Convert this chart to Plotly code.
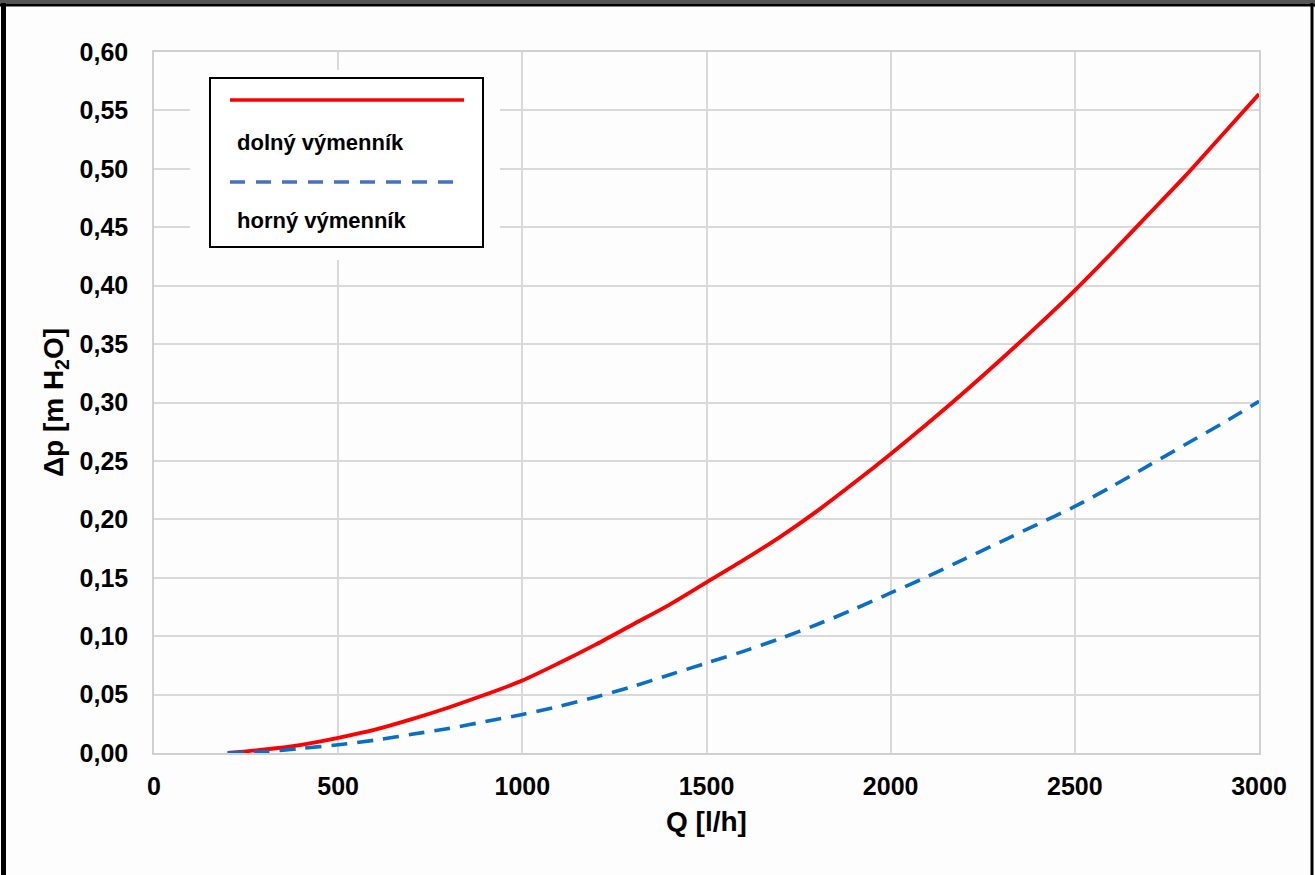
import plotly.graph_objects as go

# ---- data ----
q_values = [200, 300, 400, 500, 600, 700, 800, 900, 1000, 1100, 1200, 1300, 1400, 1500,
            1600, 1700, 1800, 1900, 2000, 2100, 2200, 2300, 2400, 2500, 2600, 2700,
            2800, 2900, 3000]
dolny = [0.000, 0.003, 0.007, 0.013, 0.020, 0.029, 0.039, 0.050, 0.062, 0.077, 0.093,
         0.110, 0.127, 0.146, 0.165, 0.185, 0.207, 0.231, 0.256, 0.282, 0.309, 0.337,
         0.366, 0.396, 0.428, 0.461, 0.494, 0.529, 0.564]
horny = [0.000, 0.001, 0.004, 0.007, 0.011, 0.016, 0.021, 0.027, 0.033, 0.040, 0.048,
         0.057, 0.067, 0.077, 0.087, 0.098, 0.110, 0.123, 0.137, 0.151, 0.166, 0.181,
         0.196, 0.211, 0.228, 0.246, 0.264, 0.282, 0.301]
series_names = ["dolný výmenník", "horný výmenník"]
x_ticks = [0, 500, 1000, 1500, 2000, 2500, 3000]
y_ticks = [0.00, 0.05, 0.10, 0.15, 0.20, 0.25, 0.30, 0.35, 0.40, 0.45, 0.50, 0.55, 0.60]

RED = "#ff0000"
BLUE = "#0a6ec8"
BLUE_LEG = "#4472c4"
FONT = "Liberation Sans, Arial, sans-serif"

W, H = 1315, 875
L, R, T, B = 154, 56, 52, 122
PW, PH = W - L - R, H - T - B


def px(x):
    return (x - L) / PW


def py(y):
    return (H - B - y) / PH


fig = go.Figure()
fig.add_trace(go.Scatter(x=q_values, y=dolny, mode="lines", name=series_names[0],
                         line=dict(color=RED, width=3.8, shape="spline", smoothing=0.8),
                         showlegend=False))
fig.add_trace(go.Scatter(x=q_values, y=horny, mode="lines", name=series_names[1],
                         line=dict(color=BLUE, width=3.6, dash="16px,10px",
                                   shape="spline", smoothing=0.8),
                         showlegend=False))

shapes = []
# legend background (covers grid) and box
shapes.append(dict(type="rect", xref="paper", yref="paper", layer="above",
                   x0=px(190), x1=px(500), y0=py(260), y1=py(70),
                   fillcolor="#fdfdfd", line=dict(width=0)))
shapes.append(dict(type="rect", xref="paper", yref="paper", layer="above",
                   x0=px(210), x1=px(483), y0=py(247), y1=py(78),
                   fillcolor="white", line=dict(color="black", width=2)))
shapes.append(dict(type="line", xref="paper", yref="paper", layer="above",
                   x0=px(230), x1=px(464), y0=py(100), y1=py(100),
                   line=dict(color=RED, width=3.5)))
shapes.append(dict(type="line", xref="paper", yref="paper", layer="above",
                   x0=px(230), x1=px(456), y0=py(182), y1=py(182),
                   line=dict(color=BLUE_LEG, width=3.5, dash="15px,11px")))
# outer frame of the picture
shapes.append(dict(type="rect", xref="paper", yref="paper", layer="above",
                   x0=px(0), x1=px(1315), y0=py(3.5), y1=py(0),
                   fillcolor="#555555", line=dict(width=0)))
shapes.append(dict(type="rect", xref="paper", yref="paper", layer="above",
                   x0=px(0), x1=px(1315), y0=py(6.5), y1=py(3.5),
                   fillcolor="black", line=dict(width=0)))
shapes.append(dict(type="rect", xref="paper", yref="paper", layer="above",
                   x0=px(1), x1=px(6), y0=py(875), y1=py(3),
                   fillcolor="black", line=dict(width=0)))
shapes.append(dict(type="rect", xref="paper", yref="paper", layer="above",
                   x0=px(1310.5), x1=px(1313.5), y0=py(875), y1=py(3),
                   fillcolor="black", line=dict(width=0)))

annotations = [
    dict(text="<b>" + series_names[0] + "</b>", xref="paper", yref="paper",
         x=px(235), y=py(142), xanchor="left", yanchor="middle", showarrow=False,
         font=dict(family=FONT, size=22, color="black")),
    dict(text="<b>" + series_names[1] + "</b>", xref="paper", yref="paper",
         x=px(235), y=py(221), xanchor="left", yanchor="middle", showarrow=False,
         font=dict(family=FONT, size=22, color="black")),
]

fig.update_layout(
    width=W, height=H,
    margin=dict(l=L, r=R, t=T, b=B),
    paper_bgcolor="#fdfdfd",
    plot_bgcolor="#fdfdfd",
    separators=", ",
    font=dict(family=FONT, color="black"),
    shapes=shapes,
    annotations=annotations,
    xaxis=dict(
        range=[0, 3000], tickvals=x_ticks, tickformat="d",
        showgrid=True, gridcolor="#d9d9d9", gridwidth=1.5,
        showline=True, linecolor="#d0d0d0", linewidth=1.5, mirror=True,
        zeroline=False, ticks="outside", ticklen=10, tickcolor="rgba(0,0,0,0)",
        tickfont=dict(family=FONT, size=25, color="black", weight="bold"),
        title=dict(text="<b>Q [l/h]</b>", font=dict(family=FONT, size=28), standoff=13),
    ),
    yaxis=dict(
        range=[0, 0.6], tickvals=y_ticks, tickformat=".2f",
        showgrid=True, gridcolor="#d9d9d9", gridwidth=1.5,
        showline=True, linecolor="#d0d0d0", linewidth=1.5, mirror=True,
        zeroline=False, ticks="outside", ticklen=19, tickcolor="rgba(0,0,0,0)",
        tickfont=dict(family=FONT, size=25, color="black", weight="bold"),
        title=dict(text="<b>Δp [m H<sub>2</sub>O]</b>", font=dict(family=FONT, size=28),
                   standoff=8),
    ),
)

fig.write_html("out.html", config={"displayModeBar": False},
               post_script="document.body.style.margin='0';document.body.style.overflow='hidden';")
